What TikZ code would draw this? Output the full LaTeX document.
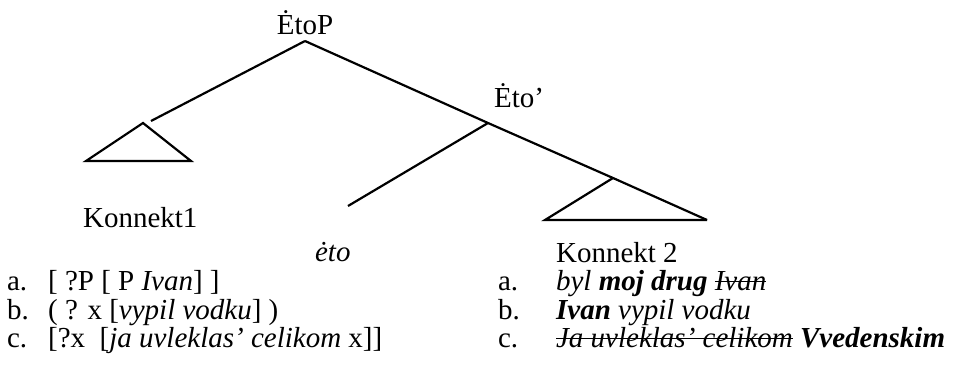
\documentclass[tikz,border=0pt]{standalone}
\usepackage{fontspec}
\setmainfont{Liberation Serif}
\newsavebox{\strikebox}
\newcommand{\mystrike}[1]{\sbox{\strikebox}{#1}\rlap{\raisebox{0.26em}{\rule{\wd\strikebox}{1.6pt}}}\usebox{\strikebox}}
\begin{document}
\begin{tikzpicture}[x=1pt,y=-1pt,line width=2.2pt,line join=miter,
  lbl/.style={inner sep=0pt,font=\fontsize{29}{34}\selectfont},
  itemtext/.style={lbl,anchor=base west},
  edge/.style={draw=black,line width=2.2pt}]
\useasboundingbox (0,0) rectangle (961,374);
% tree points
\coordinate (root) at (305,41);
\coordinate (k1end) at (151,121);
\coordinate (k1top) at (143,123);
\coordinate (k1l) at (86,161);
\coordinate (k1r) at (191,161);
\coordinate (bar) at (488,123);
\coordinate (etoend) at (348,206);
\coordinate (k2top) at (613,178);
\coordinate (k2l) at (545,220);
\coordinate (k2r) at (707,220);
% labels
\node[lbl,anchor=base] (etop) at (305,35) {ĖtoP};
\node[lbl,anchor=base west] (etobar) at (493,108) {Ėto’};
\node[lbl,anchor=base west] (k1) at (82,227) {Konnekt1};
\node[lbl,anchor=base west] (eto) at (314,261) {\itshape ėto};
\node[lbl,anchor=base west] (k2) at (555,262) {Konnekt 2};
% branches
\draw[edge] (root) -- (k1end);
\draw[edge] (root) -- (bar) -- (k2top) -- (k2r);
\draw[edge] (bar) -- (etoend);
\draw[edge] (k1top) -- (k1l) -- (k1r) -- cycle;
\draw[edge] (k2top) -- (k2l) -- (k2r);
% left list
\node[itemtext] (la) at (6,290) {a.};
\node[itemtext] (lat) at (47,290) {[ ?P [ P \textit{Ivan}] ]};
\node[itemtext] (lb) at (6,319) {b.};
\node[itemtext] (lbt) at (47,319) {( ? x [\textit{vypil vodku}] )};
\node[itemtext] (lc) at (6,347) {c.};
\node[itemtext] (lct) at (47,347) {[?x\ \ [\textit{ja uvleklas’ celikom} x]]};
% right list
\node[itemtext] (ra) at (497,290) {a.};
\node[itemtext] (rat) at (555,290) {\itshape byl \textbf{moj drug} \mystrike{Ivan}};
\node[itemtext] (rb) at (497,319) {b.};
\node[itemtext] (rbt) at (555,319) {\itshape\textbf{Ivan} vypil vodku};
\node[itemtext] (rc) at (497,347) {c.};
\node[itemtext] (rct) at (555,347) {\itshape\mystrike{Ja uvleklas’ celikom} \textbf{Vvedenskim}};
\end{tikzpicture}
\end{document}
